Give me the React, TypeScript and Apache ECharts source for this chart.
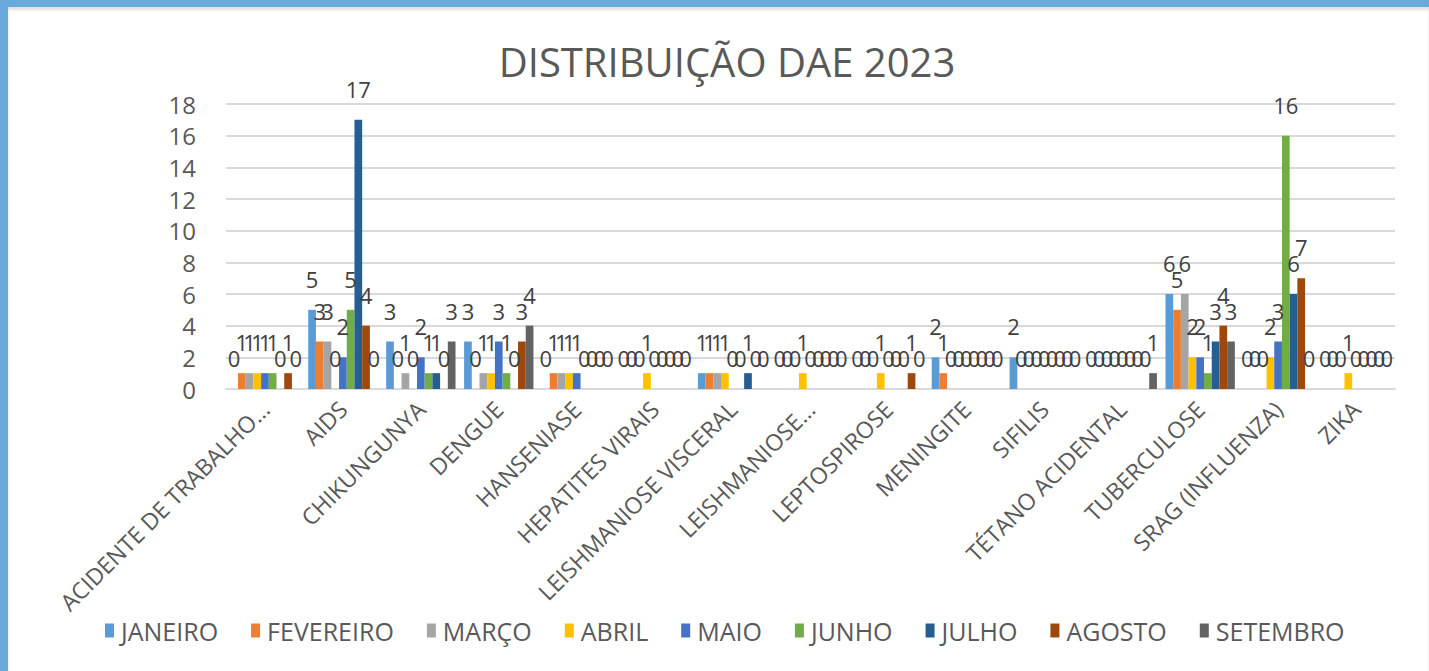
import React, { useEffect, useRef } from "react";
import * as echarts from "echarts";

const categories = [
  "ACIDENTE DE TRABALHO…",
  "AIDS",
  "CHIKUNGUNYA",
  "DENGUE",
  "HANSENIASE",
  "HEPATITES VIRAIS",
  "LEISHMANIOSE VISCERAL",
  "LEISHMANIOSE…",
  "LEPTOSPIROSE",
  "MENINGITE",
  "SIFILIS",
  "TÉTANO ACIDENTAL",
  "TUBERCULOSE",
  "SRAG (INFLUENZA)",
  "ZIKA",
];

const seriesNames = ["JANEIRO", "FEVEREIRO", "MARÇO", "ABRIL", "MAIO", "JUNHO", "JULHO", "AGOSTO", "SETEMBRO"];

const janeiro = [0, 5, 3, 3, 0, 0, 1, 0, 0, 2, 2, 0, 6, 0, 0];
const fevereiro = [1, 3, 0, 0, 1, 0, 1, 0, 0, 1, 0, 0, 5, 0, 0];
const marco = [1, 3, 1, 1, 1, 0, 1, 0, 0, 0, 0, 0, 6, 0, 0];
const abril = [1, 0, 0, 1, 1, 1, 1, 1, 1, 0, 0, 0, 2, 2, 1];
const maio = [1, 2, 2, 3, 1, 0, 0, 0, 0, 0, 0, 0, 2, 3, 0];
const junho = [1, 5, 1, 1, 0, 0, 0, 0, 0, 0, 0, 0, 1, 16, 0];
const julho = [0, 17, 1, 0, 0, 0, 1, 0, 0, 0, 0, 0, 3, 6, 0];
const agosto = [1, 4, 0, 3, 0, 0, 0, 0, 1, 0, 0, 0, 4, 7, 0];
const setembro = [0, 0, 3, 4, 0, 0, 0, 0, 0, 0, 0, 1, 3, 0, 0];

const seriesValues = [janeiro, fevereiro, marco, abril, maio, junho, julho, agosto, setembro];
const colors = ["#5B9BD5", "#ED7D31", "#A5A5A5", "#FFC000", "#4472C4", "#70AD47", "#255E91", "#9E480E", "#636363"];

const yTicks = { min: 0, max: 18, interval: 2 };
const titleText = "DISTRIBUIÇÃO DAE 2023";

export default function App() {
  const ref = useRef<HTMLDivElement>(null);
  useEffect(() => {
    document.body.style.margin = "0";
    const chart = echarts.init(ref.current!, undefined, { renderer: "svg" });
    const font = "'Open Sans', 'Liberation Sans', sans-serif";
    chart.setOption({
      animation: false,
      color: colors,
      textStyle: { fontFamily: font },
      title: {
        text: titleText,
        left: 722,
        top: 36,
        textAlign: "center",
        textStyle: { fontSize: 40, fontWeight: "normal", color: "#595959", fontFamily: font },
      },
      legend: {
        data: seriesNames,
        left: 100,
        top: 613,
        itemWidth: 9,
        itemHeight: 14,
        itemGap: 33,
        icon: "rect",
        textStyle: { fontSize: 25, color: "#595959", fontFamily: font, padding: [0, 0, 0, 2] },
      },
      grid: { left: 226, right: 34, top: 104, bottom: 282 },
      xAxis: {
        type: "category",
        data: categories,
        axisLine: { show: true, lineStyle: { color: "#D9D9D9", width: 2 } },
        axisTick: { show: false },
        axisLabel: { rotate: 45, interval: 0, fontSize: 23, color: "#595959", margin: 16, fontFamily: font },
      },
      yAxis: {
        type: "value",
        min: yTicks.min,
        max: yTicks.max,
        interval: yTicks.interval,
        axisLine: { show: false },
        axisTick: { show: false },
        splitLine: { lineStyle: { color: "#D9D9D9", width: 2 } },
        axisLabel: { fontSize: 24, color: "#595959", margin: 30, fontFamily: font, padding: [8, 0, 0, 0] },
      },
      series: seriesNames.map((name, i) => ({
        name,
        type: "bar",
        data: seriesValues[i],
        barGap: "0%",
        barCategoryGap: "11%",
        label: {
          show: true,
          position: "top",
          distance: 20,
          fontSize: 22,
          color: "#404040",
          fontFamily: font,
        },
      })),
    });
    return () => chart.dispose();
  }, []);
  return (
    <div style={{ position: "absolute", left: 0, top: 0, width: 1429, height: 671, background: "#6AAADB" }}>
      <div
        style={{
          position: "absolute",
          left: 8,
          top: 7,
          width: 1421,
          height: 664,
          background: "#FFFFFF",
          boxShadow: "inset 0 3px 3px rgba(0,0,0,0.12)",
        }}
      />
      <div ref={ref} style={{ position: "absolute", left: 0, top: 0, width: 1429, height: 671 }} />
    </div>
  );
}
